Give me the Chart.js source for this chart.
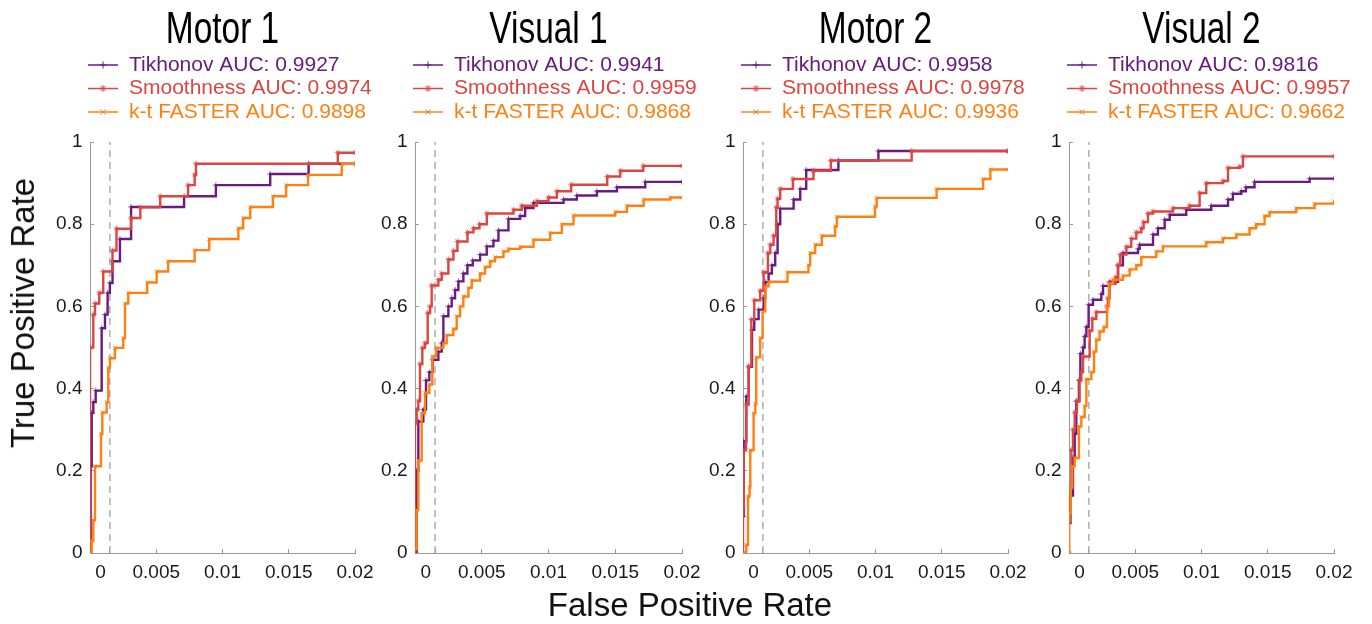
<!DOCTYPE html>
<html>
<head>
<meta charset="utf-8">
<script src="https://cdn.jsdelivr.net/npm/chart.js@4/dist/chart.umd.min.js"></script>
<style>
  body { margin: 0; background: #fff; }
  #fig { position: relative; width: 1372px; height: 624px; overflow: hidden; background: #fff; }
  .panel { position: absolute; top: 0; }
  .label { position: absolute; font-family: "Liberation Sans", Arial, sans-serif; font-size: 33px; color: #111; white-space: nowrap; }
  #ylabel { left: 23px; top: 313px; transform: translate(-50%, -50%) rotate(-90deg); }
  #xlabel { left: 690px; top: 605px; transform: translate(-50%, -50%); }
</style>
</head>
<body>
<div id="fig">
  <div class="panel" id="p0"><canvas id="c0"></canvas></div>
  <div class="panel" id="p1"><canvas id="c1"></canvas></div>
  <div class="panel" id="p2"><canvas id="c2"></canvas></div>
  <div class="panel" id="p3"><canvas id="c3"></canvas></div>
  <div class="label" id="ylabel">True Positive Rate</div>
  <div class="label" id="xlabel">False Positive Rate</div>
</div>
<script>
// ── Data (FPR, TPR) ──
const panelTitles = ['Motor 1', 'Visual 1', 'Motor 2', 'Visual 2'];
const seriesNames = ['Tikhonov', 'Smoothness', 'k-t FASTER'];

const tikhonovAUC   = [0.9927, 0.9941, 0.9958, 0.9816];
const smoothnessAUC = [0.9974, 0.9959, 0.9978, 0.9957];
const ktFasterAUC   = [0.9898, 0.9868, 0.9936, 0.9662];

const motor1Tikhonov = [[0,0],[0.00005,0.211],[0.00013,0.341],[0.00025,0.367],[0.00043,0.395],[0.00088,0.547],[0.00113,0.58],[0.00133,0.633],[0.0015,0.657],[0.0017,0.71],[0.00226,0.764],[0.0031,0.842],[0.0071,0.868],[0.0095,0.895],[0.0136,0.922],[0.0165,0.947],[0.02,0.947]];
const motor1Smoothness = [[0,0],[0,0.5],[0.00025,0.58],[0.00038,0.607],[0.0007,0.633],[0.001,0.685],[0.0017,0.736],[0.002,0.789],[0.0031,0.815],[0.0038,0.841],[0.0053,0.868],[0.0074,0.895],[0.0079,0.92],[0.008,0.947],[0.0187,0.974],[0.02,0.974]];
const motor1KtFaster = [[0,0],[0.00013,0.03],[0.00025,0.08],[0.00038,0.211],[0.00083,0.29],[0.00093,0.342],[0.00126,0.367],[0.00138,0.45],[0.0015,0.474],[0.00188,0.499],[0.00251,0.523],[0.00264,0.607],[0.00289,0.633],[0.00432,0.658],[0.00503,0.685],[0.0059,0.71],[0.0079,0.737],[0.009,0.764],[0.0112,0.79],[0.01156,0.815],[0.0121,0.842],[0.0138,0.868],[0.0148,0.895],[0.01646,0.92],[0.019,0.947],[0.02,0.947]];

const visual1Tikhonov = [[0.00005,0],[0.000125,0.2],[0.00025,0.32],[0.000625,0.349],[0.000825,0.42],[0.001075,0.44],[0.001325,0.47],[0.00175,0.49],[0.002,0.511],[0.002125,0.576],[0.0025,0.6],[0.00275,0.62],[0.003,0.64],[0.00325,0.661],[0.003625,0.68],[0.003925,0.7],[0.004325,0.712],[0.004875,0.726],[0.005375,0.746],[0.005875,0.76],[0.00625,0.785],[0.007,0.813],[0.007875,0.82],[0.00825,0.839],[0.008875,0.852],[0.011125,0.86],[0.012125,0.87],[0.013625,0.88],[0.015125,0.89],[0.01725,0.903],[0.02,0.903]];
const visual1Smoothness = [[0,0],[0,0.315],[0.000125,0.349],[0.00025,0.37],[0.000375,0.46],[0.00055,0.499],[0.00075,0.511],[0.00095,0.584],[0.00113,0.6],[0.00125,0.651],[0.00175,0.665],[0.002,0.68],[0.0025,0.714],[0.00288,0.735],[0.00318,0.758],[0.00393,0.78],[0.00438,0.79],[0.00483,0.8],[0.00538,0.826],[0.00738,0.835],[0.008,0.845],[0.00913,0.856],[0.01,0.865],[0.01063,0.88],[0.0117,0.896],[0.0144,0.916],[0.01538,0.93],[0.0171,0.942],[0.02,0.942]];
const visual1KtFaster = [[0,0.01],[0.000125,0.105],[0.00025,0.225],[0.0005,0.34],[0.00075,0.39],[0.001075,0.41],[0.0013,0.478],[0.001575,0.499],[0.002125,0.51],[0.002375,0.53],[0.002875,0.545],[0.003125,0.576],[0.003375,0.6],[0.003625,0.624],[0.004,0.645],[0.00425,0.663],[0.004875,0.68],[0.00525,0.696],[0.005625,0.71],[0.006,0.72],[0.006625,0.734],[0.007,0.74],[0.007875,0.745],[0.008875,0.762],[0.010125,0.779],[0.011,0.8],[0.011875,0.821],[0.015,0.83],[0.015875,0.845],[0.017125,0.86],[0.019125,0.865],[0.02,0.865]];

const motor2Tikhonov = [[0,0.089],[0.00005,0.272],[0.00025,0.381],[0.00043,0.453],[0.00068,0.543],[0.00085,0.569],[0.00118,0.592],[0.00156,0.62],[0.00168,0.659],[0.00193,0.68],[0.00218,0.7],[0.00243,0.73],[0.00261,0.8],[0.00281,0.838],[0.00382,0.86],[0.00432,0.886],[0.00477,0.932],[0.0072,0.955],[0.01022,0.978],[0.02,0.978]];
const motor2Smoothness = [[0,0],[0,0.114],[0.00005,0.25],[0.00023,0.361],[0.00043,0.454],[0.00063,0.568],[0.00085,0.615],[0.0013,0.638],[0.00156,0.683],[0.00188,0.73],[0.00206,0.75],[0.00231,0.772],[0.00251,0.841],[0.00261,0.862],[0.00281,0.886],[0.00377,0.91],[0.00532,0.93],[0.00663,0.955],[0.01273,0.978],[0.02,0.978]];
const motor2KtFaster = [[0,0],[0.00025,0.02],[0.00038,0.138],[0.0005,0.16],[0.00055,0.25],[0.0008,0.34],[0.00093,0.363],[0.001,0.476],[0.0013,0.523],[0.00148,0.588],[0.00168,0.649],[0.00193,0.66],[0.00336,0.683],[0.00494,0.7],[0.00507,0.73],[0.00545,0.75],[0.00595,0.772],[0.00695,0.795],[0.00708,0.818],[0.00996,0.843],[0.01009,0.864],[0.01461,0.886],[0.01812,0.91],[0.01867,0.933],[0.02,0.933]];

const visual2Tikhonov = [[0,0.073],[0.0001,0.14],[0.0003,0.231],[0.00043,0.29],[0.00055,0.369],[0.00075,0.42],[0.00086,0.485],[0.00106,0.5],[0.00118,0.527],[0.00131,0.55],[0.00148,0.604],[0.00181,0.616],[0.00244,0.63],[0.00257,0.65],[0.00307,0.66],[0.0037,0.7],[0.00407,0.73],[0.00521,0.74],[0.00533,0.75],[0.00634,0.775],[0.00671,0.79],[0.00722,0.811],[0.0076,0.823],[0.00885,0.835],[0.01074,0.845],[0.012,0.86],[0.01237,0.874],[0.013,0.88],[0.01335,0.89],[0.014,0.903],[0.01816,0.911],[0.02,0.911]];
const visual2Smoothness = [[0,0],[0,0.08],[0.0001,0.158],[0.00018,0.251],[0.0003,0.3],[0.00043,0.342],[0.0006,0.37],[0.0008,0.42],[0.00093,0.44],[0.00106,0.478],[0.00156,0.541],[0.00176,0.57],[0.00206,0.586],[0.00287,0.6],[0.00294,0.62],[0.00307,0.655],[0.00352,0.671],[0.0037,0.7],[0.00387,0.726],[0.00433,0.745],[0.0047,0.765],[0.00508,0.78],[0.00546,0.79],[0.00563,0.805],[0.00596,0.826],[0.00634,0.831],[0.00785,0.839],[0.0091,0.845],[0.00986,0.876],[0.01036,0.9],[0.01162,0.905],[0.012,0.937],[0.01288,0.94],[0.01313,0.965],[0.02,0.965]];
const visual2KtFaster = [[0,0],[0,0.097],[0.00013,0.16],[0.00025,0.211],[0.00043,0.231],[0.00075,0.308],[0.00093,0.331],[0.00118,0.358],[0.00131,0.423],[0.00169,0.44],[0.00189,0.49],[0.00206,0.519],[0.00231,0.539],[0.00262,0.55],[0.00287,0.6],[0.00302,0.655],[0.00332,0.665],[0.00407,0.675],[0.00458,0.69],[0.00508,0.7],[0.00546,0.72],[0.00659,0.734],[0.00709,0.746],[0.01036,0.756],[0.01162,0.766],[0.01263,0.775],[0.01363,0.79],[0.01413,0.8],[0.01476,0.82],[0.01514,0.829],[0.01715,0.839],[0.01854,0.85],[0.02,0.857]];

// ── Axes ──
const xTickValues = [0.0008, 0.0015, 0.005, 0.01, 0.015, 0.02];
const xTickLabels = ['0', '', '0.005', '0.01', '0.015', '0.02'];
const yTickLabels = ['0', '0.2', '0.4', '0.6', '0.8', '1'];
const thresholdFPR = 0.0015;

// ── Styles ──
const colors  = ['#6a1b80', '#dc4540', '#ff8012'];
const markers = ['cross', 'star', 'crossRot'];
const panelLeft  = [90, 415, 743, 1069];   // plot area left edge in page px
const panelWidth = [265, 267, 265, 265];
const FONT = '"Liberation Sans", Arial, Helvetica, sans-serif';
const AXIS_W = 60, SIDE = 60, TOP = 142;

const panelSeries = [
    [motor1Tikhonov, motor1Smoothness, motor1KtFaster],
    [visual1Tikhonov, visual1Smoothness, visual1KtFaster],
    [motor2Tikhonov, motor2Smoothness, motor2KtFaster],
    [visual2Tikhonov, visual2Smoothness, visual2KtFaster]
];
const panelAUC = (p) => [tikhonovAUC[p], smoothnessAUC[p], ktFasterAUC[p]];

// ── Title + legend helpers ──
function drawMarker(ctx, style, x, y, r) {
    ctx.beginPath();
    if (style === 'cross' || style === 'star') {
        ctx.moveTo(x - r, y); ctx.lineTo(x + r, y);
        ctx.moveTo(x, y - r); ctx.lineTo(x, y + r);
    }
    if (style === 'crossRot' || style === 'star') {
        const d = r * 0.72;
        ctx.moveTo(x - d, y - d); ctx.lineTo(x + d, y + d);
        ctx.moveTo(x - d, y + d); ctx.lineTo(x + d, y - d);
    }
    ctx.stroke();
}

const legendRows = [65, 88.5, 112];
const panelDecor = {
    id: 'panelDecor',
    afterDraw(chart, args, opts) {
        const { ctx, chartArea } = chart;
        ctx.save();

        // title: narrow Helvetica look, centred on the plot
        ctx.save();
        ctx.translate((chartArea.left + chartArea.right) / 2, 43);
        ctx.scale(0.76, 1);
        ctx.font = `44px ${FONT}`;
        ctx.textAlign = 'center';
        ctx.textBaseline = 'alphabetic';
        ctx.fillStyle = '#000';
        ctx.fillText(opts.title, 0, 0);
        ctx.restore();

        // legend
        ctx.font = `21px ${FONT}`;
        ctx.textBaseline = 'middle';
        seriesNames.forEach((name, i) => {
            const y = legendRows[i];
            const x0 = chartArea.left - 2;
            ctx.strokeStyle = colors[i];
            ctx.lineWidth = 1.5;
            ctx.beginPath(); ctx.moveTo(x0, y); ctx.lineTo(x0 + 30, y); ctx.stroke();
            ctx.lineWidth = 1;
            drawMarker(ctx, markers[i], x0 + 15, y, 3.5);
            ctx.fillStyle = colors[i];
            ctx.fillText(`${name} AUC: ${opts.auc[i].toFixed(4)}`, x0 + 41, y);
        });
        ctx.restore();
    }
};

// ── Build panels ──
function buildPanel(p) {
    const wrap = document.getElementById('p' + p);
    const canvas = document.getElementById('c' + p);
    const w = AXIS_W + panelWidth[p] + SIDE;
    wrap.style.left = (panelLeft[p] - AXIS_W) + 'px';
    canvas.width = w; canvas.height = 624;
    canvas.style.width = w + 'px'; canvas.style.height = '624px';

    const datasets = panelSeries[p].map((pts, i) => ({
        label: seriesNames[i],
        data: pts.map(([x, y]) => ({ x, y })),
        stepped: 'before',
        borderColor: colors[i],
        borderWidth: 2.4,
        pointStyle: markers[i],
        pointRadius: 3,
        pointBorderWidth: 1,
        pointBorderColor: colors[i] + 'aa',
        pointBackgroundColor: colors[i],
        order: 3 - i,
        fill: false
    }));
    datasets.push({
        label: 'threshold',
        data: [{ x: thresholdFPR, y: 0 }, { x: thresholdFPR, y: 1 }],
        borderColor: '#a0a0a0',
        borderWidth: 1.3,
        borderDash: [7, 5],
        pointRadius: 0,
        order: 10
    });

    return new Chart(canvas.getContext('2d'), {
        type: 'line',
        data: { datasets },
        options: {
            responsive: false,
            animation: false,
            events: [],
            layout: { padding: { left: 0, right: SIDE, top: TOP, bottom: 31 } },
            plugins: {
                legend: { display: false },
                tooltip: { enabled: false },
                title: { display: false },
                panelDecor: { title: panelTitles[p], auc: panelAUC(p) }
            },
            scales: {
                x: {
                    type: 'linear',
                    min: 0, max: 0.02,
                    afterBuildTicks: s => { s.ticks = xTickValues.map(v => ({ value: v })); },
                    afterFit: s => { s.height = 40; },
                    ticks: {
                        autoSkip: false,
                        maxRotation: 0,
                        padding: 12,
                        color: '#1a1a1a',
                        font: { family: FONT, size: 19 },
                        callback: (v, i) => xTickLabels[i]
                    },
                    grid: {
                        drawOnChartArea: false,
                        tickLength: -4,
                        tickColor: c => (c.index === 0 ? 'rgba(0,0,0,0)' : '#9a9a9a')
                    },
                    border: { color: '#9a9a9a', width: 1 }
                },
                y: {
                    min: 0, max: 1,
                    afterBuildTicks: s => { s.ticks = yTickLabels.map((t, i) => ({ value: i * 0.2 })); },
                    afterFit: s => { s.width = AXIS_W; },
                    ticks: {
                        padding: 11.5,
                        color: '#1a1a1a',
                        font: { family: FONT, size: 19 },
                        callback: (v, i) => yTickLabels[i]
                    },
                    grid: { drawOnChartArea: false, tickLength: -4, tickColor: '#9a9a9a' },
                    border: { color: '#9a9a9a', width: 1 }
                }
            }
        },
        plugins: [panelDecor]
    });
}

document.addEventListener('DOMContentLoaded', () => {
    for (let p = 0; p < 4; p++) buildPanel(p);
});
</script>
</body>
</html>
